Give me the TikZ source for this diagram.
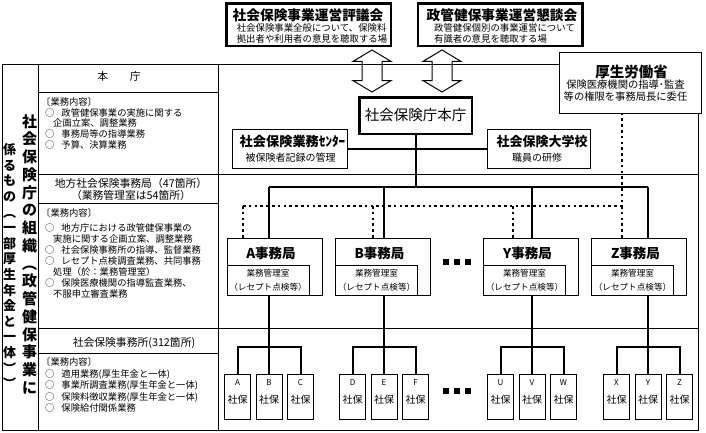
\documentclass[tikz,border=0pt]{standalone}
\usepackage{fontspec}
\setmainfont{Noto Sans CJK JP}
\usetikzlibrary{arrows.meta,positioning,calc,shapes.arrows}
\tikzset{
  frm/.style={line width=1pt},
  blk/.style={draw,rectangle,line width=1pt,inner sep=0pt,align=center},
  hvyblk/.style={blk,line width=2.5pt},
  bureau/.style={blk,minimum width=95pt,minimum height=57pt},
  mgmt/.style={blk,minimum width=82pt,minimum height=30pt,font=\fontsize{8.6}{14}\selectfont},
  office/.style={blk,minimum width=26pt,minimum height=45pt},
  trunk/.style={line width=2pt},
  dotln/.style={line width=2.6pt,dash pattern=on 2.6pt off 3.2pt},
  hollow/.style={double arrow,draw,line width=1pt,rotate=90,minimum height=42pt,inner xsep=0pt,inner ysep=9.5pt,double arrow head extend=9pt,double arrow tip angle=118},
  ttl/.style={inner sep=0pt,font=\fontsize{13.7}{15}\selectfont\bfseries},
  bttl/.style={inner sep=0pt,font=\fontsize{13.5}{15}\selectfont\bfseries},
  sub/.style={inner sep=0pt,align=left,font=\fontsize{9.4}{11}\selectfont},
  hdr/.style={inner sep=0pt,align=center,font=\fontsize{10.8}{12}\selectfont},
  body/.style={inner sep=0pt,align=left,anchor=north west},
  vtxt/.style={inner sep=0pt,align=center,anchor=north}
}
\begin{document}
\begin{tikzpicture}[x=1pt,y=-1pt]
  \useasboundingbox (0,0) rectangle (706,432);
  % Table frame
  \draw[frm] (2,64) -- (559,64);
  \draw[frm] (2,64) -- (2,430) -- (698,430) -- (698,113);
  \draw[frm] (38,64) -- (38,430);
  \draw[frm] (218,64) -- (218,430);
  \foreach \y in {92,203,353} \draw[frm] (38,\y) -- (218,\y);
  \foreach \y in {174,328} \draw[frm] (38,\y) -- (698,\y);

  % Vertical title
  \node[vtxt,font=\fontsize{15}{17.75}\selectfont\bfseries] (colR) at (29.5,114) {社\\会\\保\\険\\庁\\の\\組\\織\\︵\\政\\管\\健\\保\\事\\業\\に};
  \node[vtxt,font=\fontsize{13}{15.6}\selectfont\bfseries] (colL) at (9.5,143.5) {係\\る\\も\\の\\︵\\一\\部\\厚\\生\\年\\金\\と\\一\\体\\︶\\︶};

  % Headquarters row
  \node[hdr] (hq) at (119,76) {本　　庁};
  \node[body,font=\fontsize{9.3}{10.6}\selectfont] (hqtask) at (45,97.6) {\hspace*{-4pt}〔業務内容〕\\○\hspace{7pt}政管健保事業の実施に関する\\\hspace*{8pt}企画立案、調整業務\\○\hspace{7pt}事務局等の指導業務\\○\hspace{7pt}予算、決算業務};

  % Regional bureau row
  \node[hdr] (reg) at (131,189) {地方社会保険事務局（47箇所）\\（業務管理室は54箇所）};
  \node[body,font=\fontsize{9.3}{11}\selectfont] (regtask) at (45,208.6) {\hspace*{-4pt}〔業務内容〕\\[4pt]○\hspace{7pt}地方庁における政管健保事業の\\\hspace*{8pt}実施に関する企画立案、調整業務\\○\hspace{7pt}社会保険事務所の指導、監督業務\\○\hspace{7pt}レセプト点検調査業務、共同事務\\\hspace*{8pt}処理（於：業務管理室）\\○\hspace{7pt}保険医療機関の指導監査業務、\\\hspace*{8pt}不服申立審査業務};

  % Office row
  \node[hdr] (off) at (134,343) {社会保険事務所(312箇所)};
  \node[body,font=\fontsize{9.3}{11.5}\selectfont] (offtask) at (45,357.6) {\hspace*{-4pt}〔業務内容〕\\○\hspace{7pt}適用業務(厚生年金と一体)\\○\hspace{7pt}事業所調査業務(厚生年金と一体)\\○\hspace{7pt}保険料徴収業務(厚生年金と一体)\\○\hspace{7pt}保険給付関係業務};

  % Councils
  \node[hvyblk,minimum width=164.5,minimum height=42.5] (hyogi) at (308.5,24.5) {};
  \node[ttl] (hyogiT) at (308,15) {社会保険事業運営評議会};
  \node[sub] (hyogiS) at (312,33.5) {社会保険事業全般について、保険料\\拠出者や利用者の意見を聴取する場};
  \node[hvyblk,minimum width=164.5,minimum height=42.5] (kondan) at (500,24.5) {};
  \node[ttl] (kondanT) at (502,15) {政管健保事業運営懇談会};
  \node[sub] (kondanS) at (504.5,33.5) {政管健保個別の事業運営について\\有識者の意見を聴取する場};
  \node[hollow] (arrL) at (372,71) {};
  \node[hollow] (arrR) at (442,71) {};

  % Agency
  \node[hvyblk,minimum width=112.5,minimum height=36.5,font=\fontsize{14.5}{16}\selectfont] (honcho) at (415.5,115.5) {社会保険庁本庁};
  \node[blk,minimum width=115,minimum height=39] (center) at (289.5,148.5) {};
  \node[inner sep=0pt,font=\fontsize{13.2}{15}\selectfont\bfseries] (centerT) at (292.5,142) {社会保険業務ｾﾝﾀｰ};
  \node[inner sep=0pt,font=\fontsize{10}{12}\selectfont] (centerS) at (290.5,158) {被保険者記録の管理};
  \node[blk,minimum width=103,minimum height=39] (daigaku) at (538.5,148.5) {};
  \node[inner sep=0pt,font=\fontsize{13}{15}\selectfont\bfseries] (daigakuT) at (542,142) {社会保険大学校};
  \node[inner sep=0pt,font=\fontsize{10}{12}\selectfont] (daigakuS) at (537,158) {職員の研修};
  \draw[trunk] (center.east) -- (daigaku.west);

  % Ministry
  \node[blk,minimum width=142,minimum height=61] (kosei) at (630.5,82.5) {};
  \node[inner sep=0pt,font=\fontsize{14.5}{16}\selectfont\bfseries] (koseiT) at (631.5,72) {厚生労働省};
  \node[inner sep=0pt,align=center,font=\fontsize{10.3}{12}\selectfont] (koseiS) at (625.5,91) {保険医療機関の指導･監査\\等の権限を事務局長に委任};

  % Regional bureaus
  \foreach \id/\cx/\sx/\dx in {A/274.5/269/243,B/383/384/373,Y/531/532/513,Z/639/648/622}{
    \node[bureau] (k\id) at (\cx,266.5) {};
    \node[bttl] (t\id) at (\cx-3.5,253) {{\id}事務局};
    \node[mgmt,anchor=south west] (m\id) at (k\id.south west) {業務管理室\\（レセプト点検等）};
    \coordinate (s\id) at (\sx,187);
    \coordinate (d\id) at (\dx,206);
    \draw[trunk] (s\id) -- (s\id |- k\id.north);
    \draw[dotln] (d\id) -- (d\id |- k\id.north);
  }
  \draw[trunk] (honcho.south) -- (honcho.south |- sA);
  \draw[trunk] (sA) -- (sZ);
  \draw[dotln] (dA) -- (dZ) -- (dZ |- kosei.south);

  % Social insurance offices
  \foreach \id/\sx/\la/\lb/\lc in {A/269/A/B/C,B/384/D/E/F,Y/532/U/V/W,Z/648/X/Y/Z}{
    \coordinate (j\id) at (\sx,347);
    \foreach \ox/\l [count=\n] in {-31.5/\la,0/\lb,31.5/\lc}{
      \node[office] (o\id\n) at (\sx+\ox,396.5) {};
      \node[inner sep=0pt,font=\fontsize{8}{9}\selectfont] (ol\id\n) at (\sx+\ox,383) {\l};
      \node[inner sep=0pt,font=\fontsize{10}{12}\selectfont] (os\id\n) at (\sx+\ox,400) {社保};
    }
    \draw[trunk] (k\id.south -| j\id) -- (o\id2.north);
    \draw[trunk] (o\id1.north) |- (j\id) -| (o\id3.north);
  }

  % Ellipses
  \foreach \yy in {262,391} \foreach \k in {-11,0,11}
    \fill (457+\k-2.75,\yy-2.75) rectangle ++(5.5,5.5);
\end{tikzpicture}
\end{document}
